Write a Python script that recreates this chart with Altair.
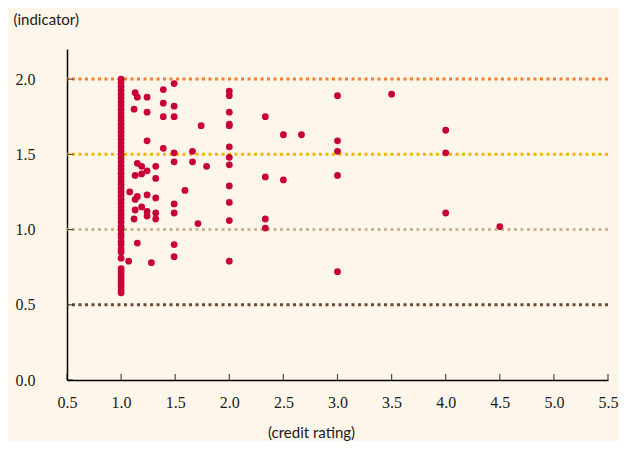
import altair as alt
import pandas as pd

# x = 1.0 column (dense)
col1_y = [2.00, 1.975, 1.95, 1.925, 1.90, 1.875, 1.85, 1.825, 1.80, 1.775, 1.75, 1.725,
          1.70, 1.675, 1.65, 1.625, 1.60, 1.575, 1.55, 1.525, 1.50, 1.475, 1.45, 1.425,
          1.40, 1.375, 1.35, 1.325, 1.30, 1.275, 1.25, 1.225, 1.20, 1.175, 1.15, 1.125,
          1.10, 1.075, 1.05, 1.02, 1.00, 0.97, 0.95, 0.92, 0.90, 0.87, 0.85, 0.81,
          0.74, 0.72, 0.70, 0.68, 0.66, 0.64, 0.62, 0.60, 0.58]

other_x = [1.13, 1.15, 1.24, 1.39, 1.49, 1.12, 1.24, 1.39, 1.49, 1.39, 1.49, 1.74,
           2.0, 2.0, 2.0, 2.0, 2.0, 1.24, 1.39, 1.49, 1.66, 2.0, 2.0, 2.0,
           1.15, 1.19, 1.24, 1.32, 1.13, 1.19, 1.32, 1.49, 1.66, 1.79, 2.0, 1.59,
           1.08, 1.15, 1.13, 1.24, 1.32, 1.13, 1.19, 1.24, 1.32, 1.12, 1.24, 1.32,
           1.49, 1.49, 2.0, 2.0, 1.71, 1.15, 1.49, 1.49, 1.07, 1.28, 2.0,
           3.0, 3.5, 2.333, 2.5, 2.667, 3.0, 3.0, 4.0, 4.0, 2.333, 2.5, 3.0,
           4.0, 2.333, 2.333, 4.5, 3.0]
other_y = [1.91, 1.88, 1.88, 1.93, 1.97, 1.80, 1.78, 1.84, 1.82, 1.75, 1.75, 1.69,
           1.92, 1.89, 1.78, 1.69, 1.70, 1.59, 1.54, 1.51, 1.52, 1.55, 1.48, 1.43,
           1.44, 1.42, 1.39, 1.42, 1.36, 1.37, 1.34, 1.45, 1.45, 1.42, 1.29, 1.26,
           1.25, 1.22, 1.20, 1.23, 1.21, 1.13, 1.15, 1.12, 1.11, 1.07, 1.09, 1.07,
           1.17, 1.11, 1.18, 1.06, 1.04, 0.91, 0.90, 0.82, 0.79, 0.78, 0.79,
           1.89, 1.90, 1.75, 1.63, 1.63, 1.59, 1.52, 1.66, 1.51, 1.35, 1.33, 1.36,
           1.11, 1.07, 1.01, 1.02, 0.72]

ref_levels = [2.0, 1.5, 1.0, 0.5]
ref_colors = ["#EE7F2D", "#F2B705", "#CDB68C", "#6B4A30"]

x_ticks = [0.5, 1.0, 1.5, 2.0, 2.5, 3.0, 3.5, 4.0, 4.5, 5.0, 5.5]
y_ticks = [0.0, 0.5, 1.0, 1.5, 2.0]

pts = pd.DataFrame({
    "x": [1.0] * len(col1_y) + other_x,
    "y": col1_y + other_y,
})
refs = pd.DataFrame({"level": ref_levels, "color": ref_colors})
xt = pd.DataFrame({"v": x_ticks})
yt = pd.DataFrame({"v": y_ticks})

xscale = alt.Scale(domain=[0.5, 5.5], nice=False, zero=False)
yscale = alt.Scale(domain=[0, 2.2], nice=False)

xaxis = alt.Axis(values=x_ticks, format=".1f", title="(credit rating)",
                 labelPadding=14, labelFlush=False, titleX=244, titleY=57,
                 titleAnchor="start", titleAlign="center", titleBaseline="alphabetic")
yaxis = alt.Axis(values=y_ticks, format=".1f", title="(indicator)",
                 labelPadding=32, labelFlush=False, titleAngle=0, titleX=-54, titleY=-25,
                 titleAlign="left", titleBaseline="alphabetic")

rules = alt.Chart(refs).mark_rule(strokeWidth=3, strokeDash=[3, 3.5]).encode(
    y=alt.Y("level:Q", scale=yscale, axis=yaxis),
    color=alt.Color("color:N", scale=None),
)

points = alt.Chart(pts).mark_circle(size=46, color="#C8003A", opacity=1).encode(
    x=alt.X("x:Q", scale=xscale, axis=xaxis),
    y=alt.Y("y:Q", scale=yscale, axis=yaxis),
)

xticks = alt.Chart(xt).mark_tick(orient="vertical", size=6, thickness=1.2,
                                 yOffset=-3, color="black").encode(
    x=alt.X("v:Q", scale=xscale, axis=xaxis),
    y=alt.datum(0),
)
yticks = alt.Chart(yt).mark_tick(orient="horizontal", size=6, thickness=1.2,
                                 xOffset=3, color="black").encode(
    y=alt.Y("v:Q", scale=yscale, axis=yaxis),
    x=alt.datum(0.5),
)

chart = alt.layer(rules, points, xticks, yticks).properties(
    width=541, height=331,
    background="#FEF6EA",
    padding={"left": 59, "top": 41, "right": 11, "bottom": 61},
    autosize=alt.AutoSizeParams(type="none"),
).configure_view(stroke=None, fill="#FEF6EA").configure_axis(
    grid=False, ticks=False, domainColor="black", domainWidth=1.5,
    labelFont="Liberation Serif", labelFontSize=16, labelColor="#1a1a1a",
    titleFont="Lato", titleFontSize=15, titleFontWeight="normal", titleColor="#1a1a1a",
)

chart.save("out.html", embed_options={"renderer": "svg", "actions": False})
